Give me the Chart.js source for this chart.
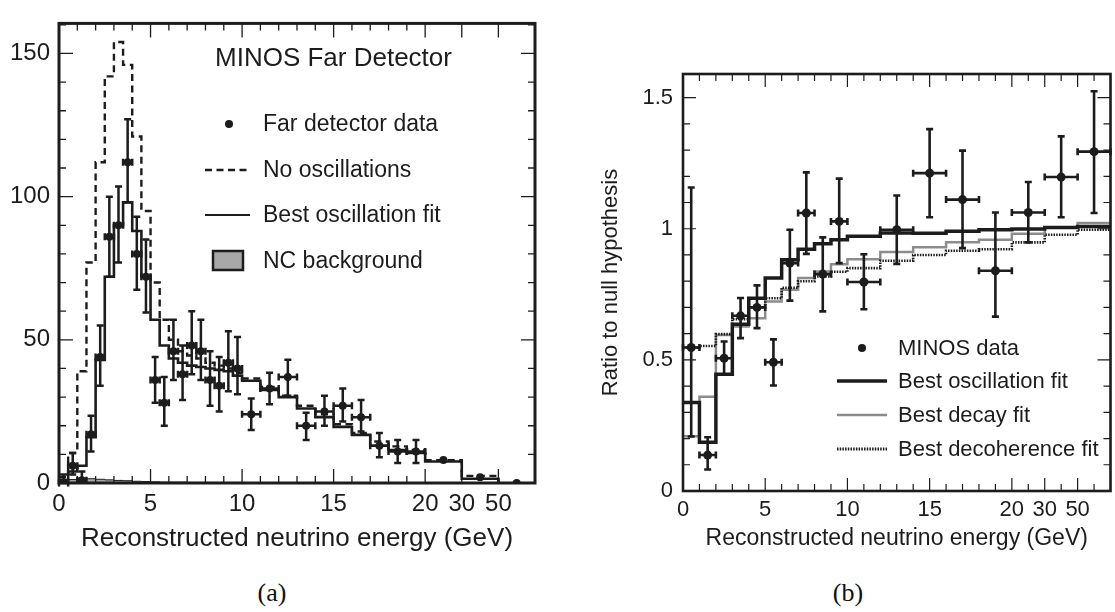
<!DOCTYPE html>
<html><head><meta charset="utf-8">
<script src="https://cdn.jsdelivr.net/npm/chart.js@4.4.1/dist/chart.umd.min.js"></script>
<style>
html,body{margin:0;padding:0;background:#fff;width:1115px;height:612px;overflow:hidden;}
canvas{position:absolute;top:0;}
.cap{position:absolute;font-family:"Liberation Serif","DejaVu Serif",serif;font-size:26px;color:#111;transform:translateX(-50%);}
</style></head><body>
<canvas id="ca" width="560" height="560" style="left:0"></canvas>
<canvas id="cb" width="555" height="560" style="left:560px"></canvas>
<div class="cap" style="left:272px;top:578px">(a)</div>
<div class="cap" style="left:848px;top:578px">(b)</div>
<script>
// ================= Panel (a) data =================
const edgesA = [0,0.5,1,1.5,2,2.5,3,3.5,4,4.5,5,5.5,6,6.5,7,7.5,8,8.5,9,9.5,10,11,12,13,14,15,16,17,18,19,20,22,24];
const noOscA = [2,10.5,39,77,112,142,154,146,121,95,70,57,50,46,44.5,43.5,42,41,40,38.5,36.5,33.5,30.5,27,24,20.5,17.5,14.5,12.8,11.5,8,2.5];
const bestFitA = [1,4,6,16,43,72,90,98,88,72,57,48,43.5,42,41,40.5,40,39.5,39,37.5,35.7,32.5,30,26,23,19.6,16.8,13,11.5,10.5,7.5,1.5];
const ncA = [0.4,1.2,1.5,1.5,1.3,1.1,0.9,0.8,0.6,0.5,0.4,0.3,0.3,0.3,0.2,0.2,0.2,0.2,0.2,0.2,0.1,0.1,0.1,0.1,0.1,0.1,0.1,0.1,0.1,0.1,0.1,0];
const dataXA = [0.25,0.75,1.25,1.75,2.25,2.75,3.25,3.75,4.25,4.75,5.25,5.75,6.25,6.75,7.25,7.75,8.25,8.75,9.25,9.75,10.5,11.5,12.5,13.5,14.5,15.5,16.5,17.5,18.5,19.5,21,23,25];
const dataYA = [0,6,1,17,44,86,90,112,80,72,36,28,46,38,48,46,36,34,42,40,24,33,37,20,25,27,23,13,11,11,8,2,0];
const errUpA = [3,4.5,3,6.5,11,14,13.5,15,13,13,8,9,11,10,12,11,10,10,11,11,5.5,5.5,6,4.5,5.5,6,6,4.5,4,4,0,0,0];
const errDnA = [0,3,1,6,10,14,13,14,12.5,12.5,8,8,10,9,10,10,9,9,10,9,5.5,5.5,6.5,5,5,5.5,5,4,4,4,0,0,0];
const errXA = [0.25,0.25,0.25,0.25,0.25,0.25,0.25,0.25,0.25,0.25,0.25,0.25,0.25,0.25,0.25,0.25,0.25,0.25,0.25,0.25,0.5,0.5,0.5,0.5,0.5,0.5,0.5,0.5,0.5,0.5,0,0,0];
const xTickValsA = [0,5,10,15,20,22,24];
const xTickLabelsA = ['0','5','10','15','20','30','50'];
const xMinorA = [1,2,3,4,6,7,8,9,11,12,13,14,16,17,18,19];
const yTickValsA = [0,50,100,150];
const yTickLabelsA = ['0','50','100','150'];
const yMinorA = [10,20,30,40,60,70,80,90,110,120,130,140,160];
const legendLabelsA = ['MINOS Far Detector','Far detector data','No oscillations','Best oscillation fit','NC background'];
const xTitle = 'Reconstructed neutrino energy (GeV)';

// ================= Panel (b) data =================
const edgesB = [0,1,2,3,4,5,6,7,8,9,10,12,14,16,18,20,22,24,26];
const oscB = [0.337,0.186,0.445,0.636,0.735,0.812,0.882,0.922,0.943,0.958,0.971,0.984,0.983,0.99,0.996,0.999,1.005,1.009];
const decayB = [0.209,0.359,0.595,0.627,0.659,0.723,0.767,0.812,0.837,0.865,0.884,0.911,0.929,0.948,0.958,0.981,1.005,1.022];
const decohB = [0.547,0.553,0.598,0.655,0.70,0.735,0.775,0.80,0.818,0.836,0.85,0.878,0.90,0.916,0.922,0.948,0.977,0.996];
const dataXB = [0.5,1.5,2.5,3.5,4.5,5.5,6.5,7.5,8.5,9.5,11,13,15,17,19,21,23,25];
const dataYB = [0.547,0.137,0.506,0.668,0.70,0.491,0.869,1.06,0.827,1.028,0.797,0.996,1.212,1.111,0.84,1.062,1.197,1.294];
const errUpB = [0.61,0.068,0.064,0.068,0.084,0.087,0.127,0.155,0.14,0.163,0.106,0.131,0.168,0.187,0.222,0.116,0.155,0.23];
const errDnB = [0.339,0.055,0.063,0.085,0.079,0.089,0.143,0.156,0.142,0.159,0.104,0.13,0.168,0.185,0.175,0.114,0.153,0.234];
const errXB = [0.5,0.5,0.5,0.5,0.5,0.5,0.5,0.5,0.5,0.5,1,1,1,1,1,1,1,1];
const xTickValsB = [0,5,10,15,20,22,24];
const xTickLabelsB = ['0','5','10','15','20','30','50'];
const xMinorB = [1,2,3,4,6,7,8,9,11,12,13,14,16,17,18,19,21,23,25];
const yTickValsB = [0,0.5,1,1.5];
const yTickLabelsB = ['0','0.5','1','1.5'];
const yMinorB = [0.1,0.2,0.3,0.4,0.6,0.7,0.8,0.9,1.1,1.2,1.3,1.4];
const legendLabelsB = ['MINOS data','Best oscillation fit','Best decay fit','Best decoherence fit'];
const yTitleB = 'Ratio to null hypothesis';

// ================= helpers =================
const INK = '#1c1c1c';
const FONT = '"Liberation Sans", Arial, Helvetica, sans-serif';
function steps(edges, vals, closeToZero){
  const pts = vals.map((v,i)=>({x:edges[i], y:v}));
  pts.push({x:edges[vals.length], y:vals[vals.length-1]});
  if (closeToZero) pts.push({x:edges[vals.length], y:0});
  return pts;
}
function pts(xs, ys){ return xs.map((x,i)=>({x:x, y:ys[i]})); }

const errorBars = {
  id:'errorBars',
  afterDatasetsDraw(chart){
    const ctx = chart.ctx, xs = chart.scales.x, ys = chart.scales.y;
    chart.data.datasets.forEach(ds=>{
      if (!ds.errUp) return;
      ctx.save();
      ctx.strokeStyle = ds.errColor; ctx.lineWidth = ds.errWidth; ctx.lineCap='butt';
      const c = ds.capHalf;
      ds.data.forEach((p,j)=>{
        const px = xs.getPixelForValue(p.x), py = ys.getPixelForValue(p.y);
        const up = ds.errUp[j], dn = ds.errDown[j], xe = ds.errX[j];
        ctx.beginPath();
        if (up>0 || dn>0){
          const y1 = ys.getPixelForValue(p.y+up), y2 = ys.getPixelForValue(Math.max(0,p.y-dn));
          ctx.moveTo(px,y1); ctx.lineTo(px,y2);
          if (up>0){ ctx.moveTo(px-c,y1); ctx.lineTo(px+c,y1); }
          if (dn>0 && p.y-dn>0){ ctx.moveTo(px-c,y2); ctx.lineTo(px+c,y2); }
        }
        if (xe>0){
          const x1 = xs.getPixelForValue(p.x-xe), x2 = xs.getPixelForValue(p.x+xe);
          ctx.moveTo(x1,py); ctx.lineTo(x2,py);
          ctx.moveTo(x1,py-c); ctx.lineTo(x1,py+c);
          ctx.moveTo(x2,py-c); ctx.lineTo(x2,py+c);
        }
        ctx.stroke();
      });
      ctx.restore();
    });
  }
};

const frame = {
  id:'frame',
  afterDraw(chart){
    const o = chart.options.plugins.frame;
    const {left,right,top,bottom} = chart.chartArea;
    const ctx = chart.ctx, xs = chart.scales.x, ys = chart.scales.y;
    ctx.save(); ctx.strokeStyle = INK; ctx.lineWidth = o.tickWidth;
    ctx.beginPath();
    const xt = (vals,len)=>vals.forEach(v=>{const p=xs.getPixelForValue(v); ctx.moveTo(p,bottom); ctx.lineTo(p,bottom-len); ctx.moveTo(p,top); ctx.lineTo(p,top+len);});
    const yt = (vals,len)=>vals.forEach(v=>{const p=ys.getPixelForValue(v); ctx.moveTo(left,p); ctx.lineTo(left+len,p); ctx.moveTo(right,p); ctx.lineTo(right-len,p);});
    xt(o.xMajor,o.majorLen); xt(o.xMinor,o.minorLen);
    yt(o.yMajor,o.majorLen); yt(o.yMinor,o.minorLen);
    ctx.stroke();
    ctx.lineWidth = o.frameWidth;
    ctx.strokeRect(left,top,right-left,bottom-top);
    ctx.restore();
  }
};

function labelFor(vals, labels){ return (v)=>{ const i = vals.indexOf(v); return i<0 ? '' : labels[i]; }; }

// ================= Chart (a) =================
const legendA = {
  id:'legendA',
  afterDraw(chart){
    const ctx = chart.ctx; ctx.save();
    ctx.fillStyle = INK; ctx.strokeStyle = INK; ctx.textBaseline='middle';
    ctx.font = '26px '+FONT; ctx.fillText(legendLabelsA[0],215,59);
    ctx.font = '23px '+FONT;
    ctx.beginPath(); ctx.arc(229,124,4,0,Math.PI*2); ctx.fill();
    ctx.fillText(legendLabelsA[1],263,125);
    ctx.lineWidth=2.5; ctx.setLineDash([7,4.5]); ctx.beginPath(); ctx.moveTo(205,170); ctx.lineTo(249,170); ctx.stroke();
    ctx.setLineDash([]); ctx.fillText(legendLabelsA[2],263,171);
    ctx.lineWidth=2; ctx.beginPath(); ctx.moveTo(205,215); ctx.lineTo(250,215); ctx.stroke();
    ctx.fillText(legendLabelsA[3],263,216);
    ctx.fillStyle='#a8a8a8'; ctx.fillRect(213,251,30,19);
    ctx.lineWidth=2.5; ctx.strokeRect(213,251,30,19);
    ctx.fillStyle=INK; ctx.fillText(legendLabelsA[4],263,262);
    ctx.restore();
  }
};

new Chart(document.getElementById('ca'), {
  type:'scatter',
  data:{ datasets:[
    { label:'Far detector data', data:pts(dataXA,dataYA), showLine:false, pointRadius:4, pointHoverRadius:4,
      backgroundColor:INK, borderColor:INK, pointBorderWidth:0,
      errUp:errUpA, errDown:errDnA, errX:errXA, errColor:INK, errWidth:2.5, capHalf:3.5 },
    { label:'Best oscillation fit', data:steps(edgesA,bestFitA,true), showLine:true, stepped:'before', pointRadius:0,
      borderColor:INK, borderWidth:2.6, fill:false },
    { label:'No oscillations', data:steps(edgesA,noOscA,true), showLine:true, stepped:'before', pointRadius:0,
      borderColor:INK, borderWidth:2.4, borderDash:[7,4.5], fill:false },
    { label:'NC background', data:steps(edgesA,ncA,false), showLine:true, stepped:'before', pointRadius:0,
      borderColor:INK, borderWidth:1, backgroundColor:'#a8a8a8', fill:'origin' }
  ]},
  options:{
    responsive:false, animation:false, events:[],
    layout:{padding:{left:0,right:25,top:8,bottom:0}},
    plugins:{ legend:{display:false}, tooltip:{enabled:false},
      frame:{xMajor:xTickValsA, xMinor:xMinorA, yMajor:yTickValsA, yMinor:yMinorA, majorLen:14, minorLen:7, tickWidth:1.3, frameWidth:3} },
    scales:{
      x:{ type:'linear', min:0, max:26,
        grid:{display:false, drawTicks:false}, border:{display:false},
        afterBuildTicks:(s)=>{ s.ticks = xTickValsA.map(v=>({value:v})); },
        afterFit:(s)=>{ s.height = 77; },
        ticks:{ callback:labelFor(xTickValsA,xTickLabelsA), autoSkip:false, maxRotation:0, padding:7, color:INK, font:{family:FONT, size:24} },
        title:{ display:true, text:xTitle, color:INK, font:{family:FONT, size:26}, padding:{top:0,bottom:6} } },
      y:{ type:'linear', min:0, max:160.5,
        grid:{display:false, drawTicks:false}, border:{display:false},
        afterBuildTicks:(s)=>{ s.ticks = yTickValsA.map(v=>({value:v})); },
        afterFit:(s)=>{ s.width = 59; },
        ticks:{ callback:labelFor(yTickValsA,yTickLabelsA), padding:9, color:INK, font:{family:FONT, size:24} } }
    }
  },
  plugins:[errorBars, frame, legendA]
});

// ================= Chart (b) =================
const legendB = {
  id:'legendB',
  afterDraw(chart){
    const ctx = chart.ctx; ctx.save();
    ctx.fillStyle = INK; ctx.strokeStyle = INK; ctx.textBaseline='middle';
    ctx.font = '22px '+FONT;
    ctx.beginPath(); ctx.arc(302,348,4,0,Math.PI*2); ctx.fill();
    ctx.fillText(legendLabelsB[0],338,349);
    ctx.lineWidth=3.5; ctx.beginPath(); ctx.moveTo(277,381); ctx.lineTo(327,381); ctx.stroke();
    ctx.fillText(legendLabelsB[1],338,382);
    ctx.strokeStyle='#8c8c8c'; ctx.lineWidth=2.5; ctx.beginPath(); ctx.moveTo(277,415); ctx.lineTo(327,415); ctx.stroke();
    ctx.fillText(legendLabelsB[2],338,416);
    ctx.strokeStyle=INK; ctx.lineWidth=3; ctx.setLineDash([1.5,1.2]); ctx.beginPath(); ctx.moveTo(277,449); ctx.lineTo(327,449); ctx.stroke();
    ctx.setLineDash([]);
    ctx.fillText(legendLabelsB[3],338,450);
    ctx.restore();
  }
};

new Chart(document.getElementById('cb'), {
  type:'scatter',
  data:{ datasets:[
    { label:'MINOS data', data:pts(dataXB,dataYB), showLine:false, pointRadius:4.5, pointHoverRadius:4.5,
      backgroundColor:INK, borderColor:INK, pointBorderWidth:0,
      errUp:errUpB, errDown:errDnB, errX:errXB, errColor:INK, errWidth:2.6, capHalf:3.5 },
    { label:'Best oscillation fit', data:steps(edgesB,oscB,false), showLine:true, stepped:'before', pointRadius:0,
      borderColor:INK, borderWidth:3.5, fill:false },
    { label:'Best decoherence fit', data:steps(edgesB,decohB,false), showLine:true, stepped:'before', pointRadius:0,
      borderColor:INK, borderWidth:2.6, borderDash:[1.5,1.2], fill:false },
    { label:'Best decay fit', data:steps(edgesB,decayB,false), showLine:true, stepped:'before', pointRadius:0,
      borderColor:'#8c8c8c', borderWidth:2.5, fill:false }
  ]},
  options:{
    responsive:false, animation:false, events:[],
    layout:{padding:{left:0,right:1,top:74,bottom:0}},
    plugins:{ legend:{display:false}, tooltip:{enabled:false},
      frame:{xMajor:xTickValsB, xMinor:xMinorB, yMajor:yTickValsB, yMinor:yMinorB, majorLen:13, minorLen:7, tickWidth:1.2, frameWidth:2.6} },
    scales:{
      x:{ type:'linear', min:0, max:26,
        grid:{display:false, drawTicks:false}, border:{display:false},
        afterBuildTicks:(s)=>{ s.ticks = xTickValsB.map(v=>({value:v})); },
        afterFit:(s)=>{ s.height = 69; },
        ticks:{ callback:labelFor(xTickValsB,xTickLabelsB), autoSkip:false, maxRotation:0, padding:6, color:INK, font:{family:FONT, size:22} },
        title:{ display:true, text:xTitle, color:INK, font:{family:FONT, size:23}, padding:{top:0,bottom:8} } },
      y:{ type:'linear', min:0, max:1.59,
        grid:{display:false, drawTicks:false}, border:{display:false},
        afterBuildTicks:(s)=>{ s.ticks = yTickValsB.map(v=>({value:v})); },
        afterFit:(s)=>{ s.width = 123; },
        ticks:{ callback:labelFor(yTickValsB,yTickLabelsB), padding:10, color:INK, font:{family:FONT, size:22} },
        title:{ display:true, text:yTitleB, color:INK, font:{family:FONT, size:22}, padding:{top:38,bottom:0} } }
    }
  },
  plugins:[errorBars, frame, legendB]
});
</script>
</body></html>
